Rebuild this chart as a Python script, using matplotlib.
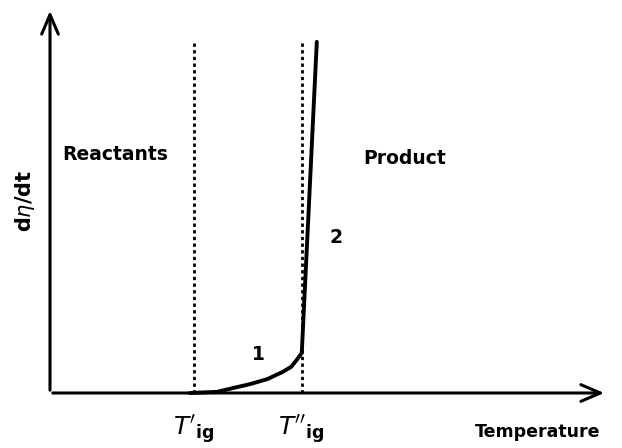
import numpy as np
import matplotlib.pyplot as plt

# curva da taxa de reacao (unidades arbitrarias)
temp = [2.51, 3.00, 3.29, 3.59, 3.90, 4.18, 4.33, 4.43, 4.52, 4.79]
taxa = [0.00, 0.03, 0.13, 0.23, 0.36, 0.55, 0.68, 0.86, 1.04, 9.12]

# temperaturas de ignicao
t_ig1 = 2.59
t_ig2 = 4.52
topo_pontilhado = 9.17

rotulos_ig = [r"$T'_{\mathbf{ig}}$", r"$T''_{\mathbf{ig}}$"]

fig = plt.figure(figsize=(6.22, 4.48), dpi=100)
ax = fig.add_axes([50/622, 55/448, 557/622, 385/448])
ax.set_xlim(0, 10)
ax.set_ylim(0, 10)
ax.axis('off')

# eixos com setas
ax.annotate('', xy=(1.0, 0), xytext=(0, 0), xycoords='axes fraction',
            arrowprops=dict(arrowstyle='->,head_length=1.4,head_width=0.6', lw=2.2, color='k'))
ax.annotate('', xy=(0, 1.0), xytext=(0, 0), xycoords='axes fraction',
            arrowprops=dict(arrowstyle='->,head_length=1.4,head_width=0.6', lw=2.2, color='k'))

# linhas pontilhadas
for t in (t_ig1, t_ig2):
    ax.plot([t, t], [0, topo_pontilhado], color='k', lw=2.0, linestyle=(0, (1.2, 1.2)))

ax.plot(temp, taxa, color='k', lw=2.8, solid_capstyle='round', solid_joinstyle='round')

fs = 13.5
ax.text(0.22, 6.2, 'Reactants', fontsize=fs, fontweight='bold', va='center', ha='left')
ax.text(5.62, 6.1, 'Product', fontsize=fs, fontweight='bold', va='center', ha='left')
ax.text(3.74, 1.0, '1', fontsize=fs, fontweight='bold', va='center', ha='center')
ax.text(5.13, 4.05, '2', fontsize=fs, fontweight='bold', va='center', ha='center')

ax.text(-0.45, 5.0, r'd$\eta$/dt', fontsize=15, fontweight='bold', rotation=90,
        va='center', ha='center')
ax.text(t_ig1, -0.95, rotulos_ig[0], fontsize=18, ha='center', va='center')
ax.text(t_ig2, -0.95, rotulos_ig[1], fontsize=18, ha='center', va='center')
ax.text(8.75, -1.0, 'Temperature', fontsize=12.5, fontweight='bold', ha='center', va='center')

for a in ax.get_children():
    try:
        a.set_clip_on(False)
    except Exception:
        pass

fig.savefig('out.png', dpi=100)
